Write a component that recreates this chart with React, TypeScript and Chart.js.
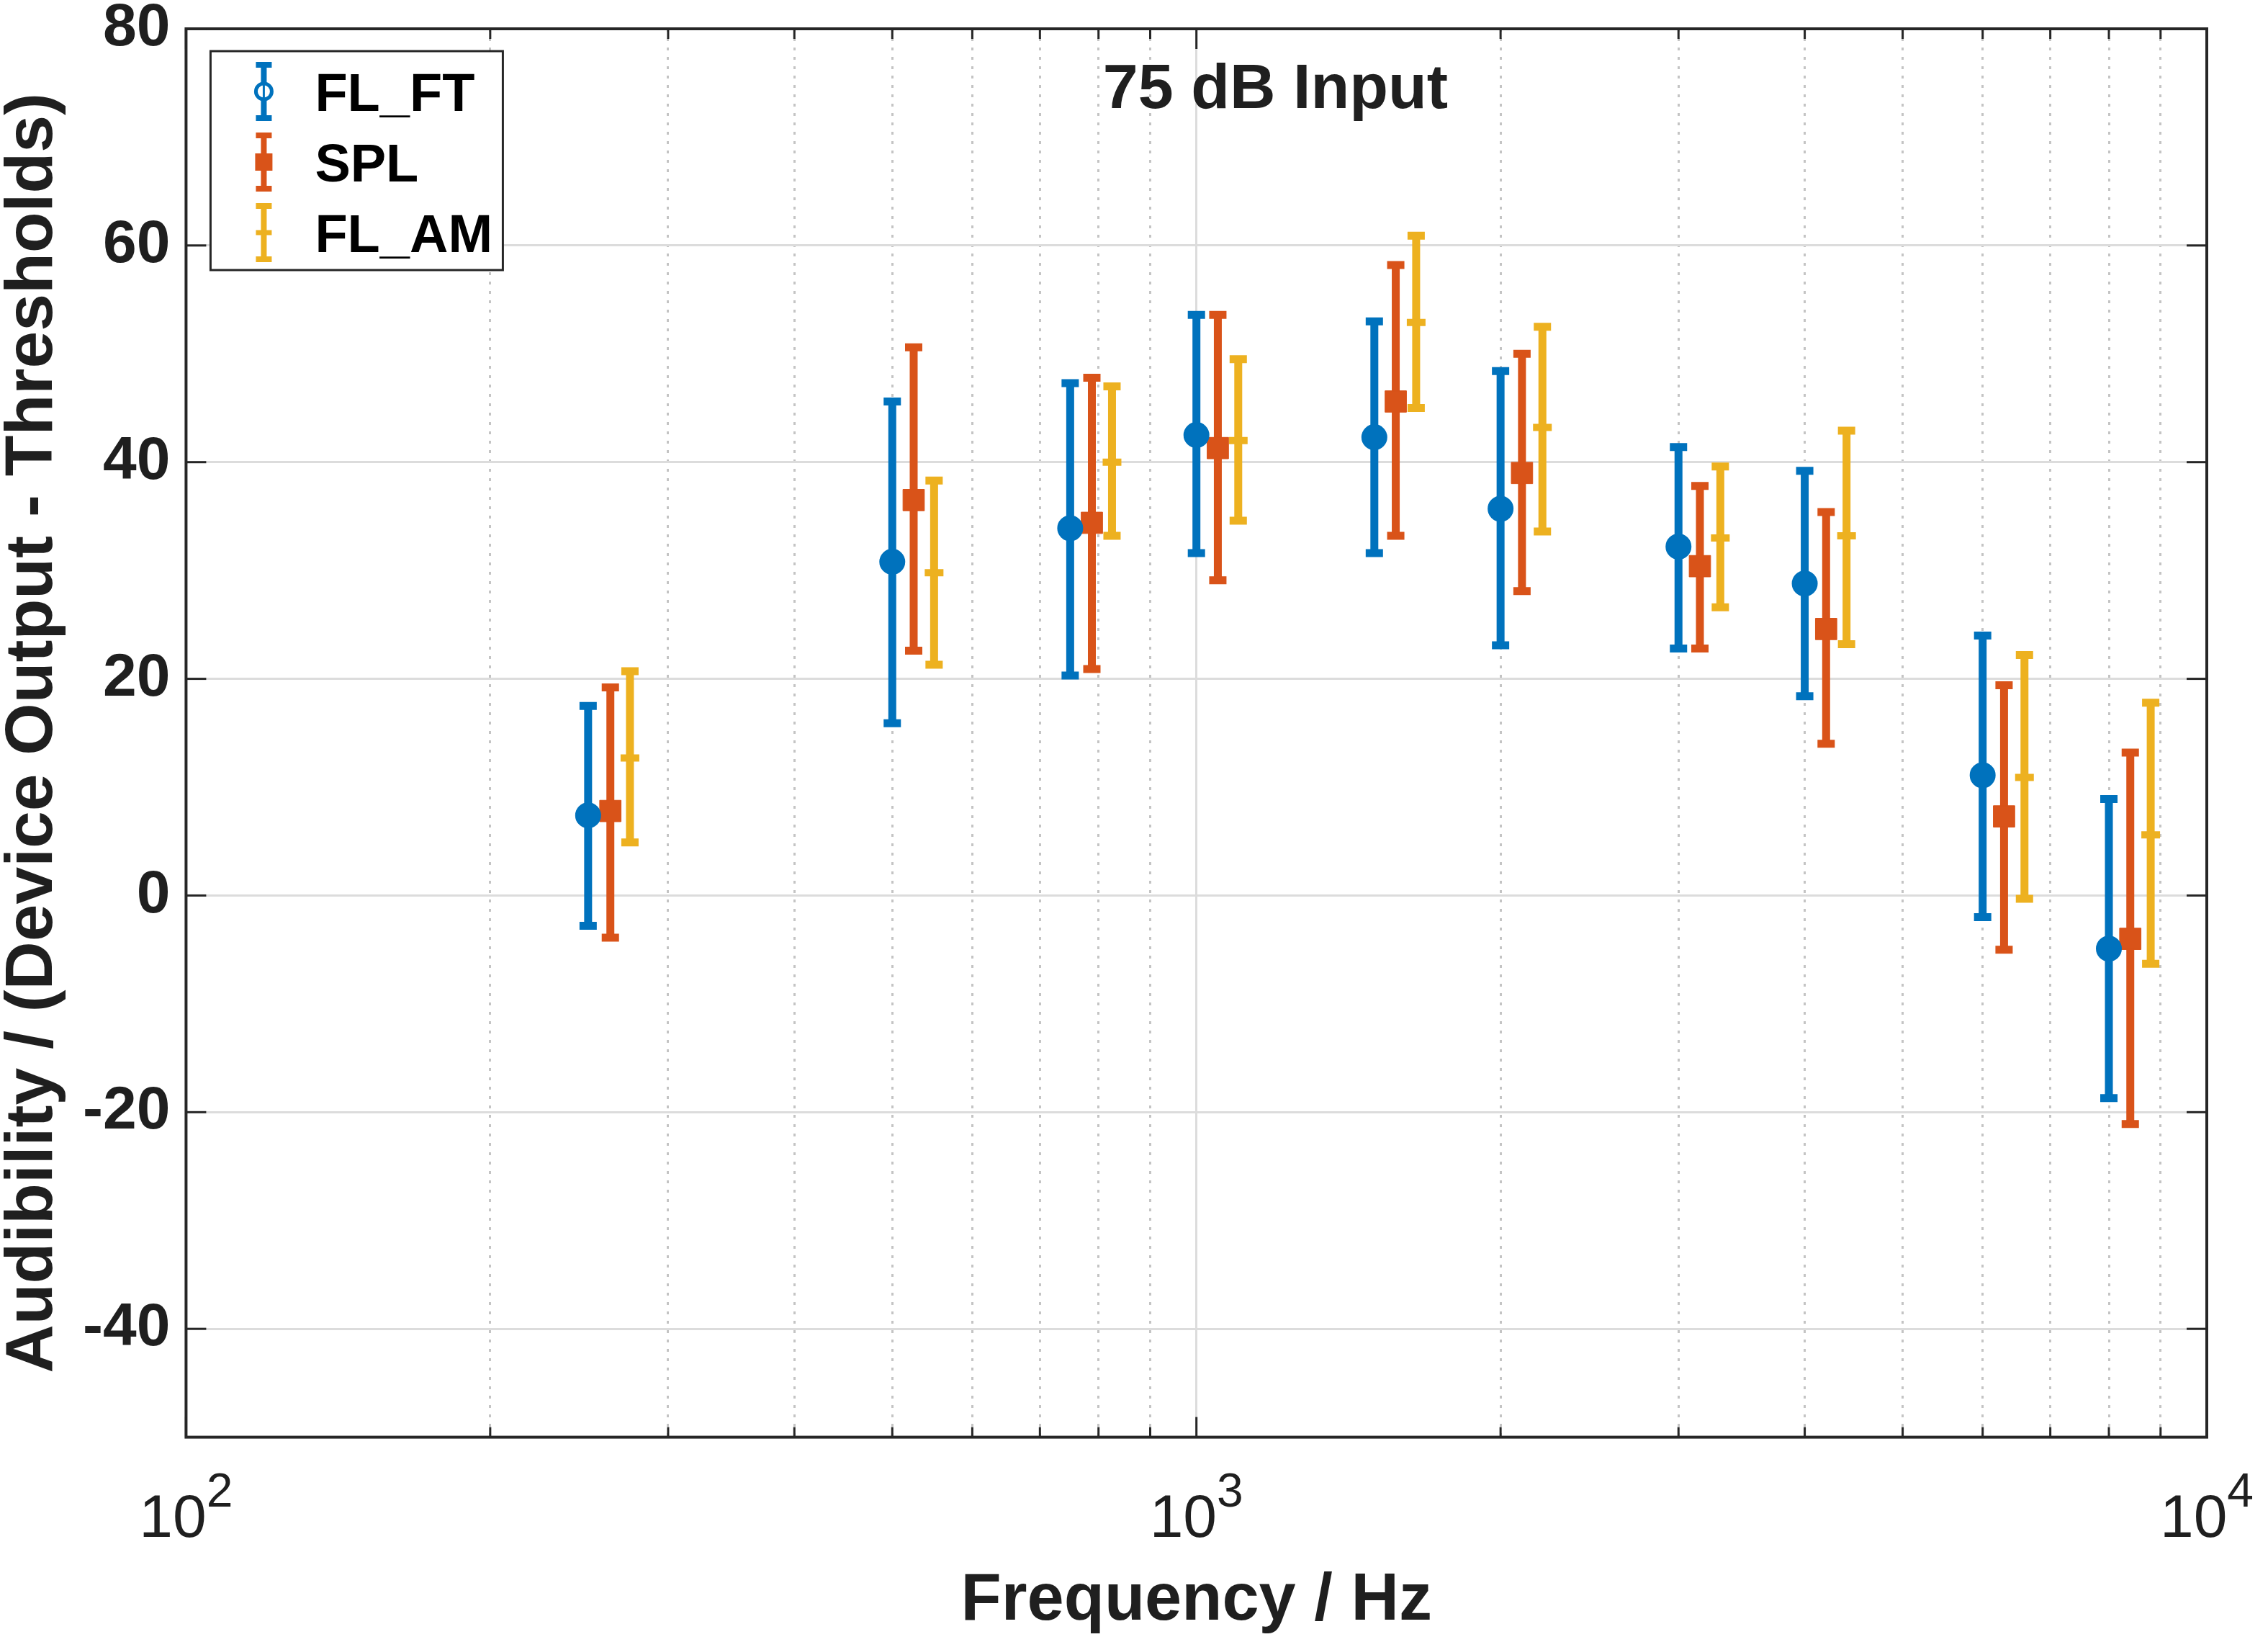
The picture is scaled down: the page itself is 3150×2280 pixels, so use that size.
import React, { useEffect, useRef } from 'react';
import Chart from 'chart.js/auto';

// frequencies (Hz) - series are slightly staggered around the nominal bands
const ftFreq = [250, 500, 750, 1000, 1500, 2000, 3000, 4000, 6000, 8000];
const splFreq = [263, 525, 788, 1050, 1575, 2100, 3150, 4200, 6300, 8400];
const amFreq = [275, 550, 825, 1100, 1650, 2200, 3300, 4400, 6600, 8800];

// FL_FT
const ftMean = [7.4, 30.8, 33.9, 42.5, 42.3, 35.7, 32.2, 28.8, 11.1, -4.9];
const ftUpper = [17.5, 45.6, 47.3, 53.6, 53.0, 48.4, 41.4, 39.2, 24.0, 8.9];
const ftLower = [-2.8, 15.9, 20.3, 31.6, 31.6, 23.1, 22.8, 18.4, -2.0, -18.7];

// SPL
const splMean = [7.8, 36.5, 34.4, 41.3, 45.6, 39.0, 30.4, 24.6, 7.3, -4.0];
const splUpper = [19.2, 50.6, 47.8, 53.6, 58.2, 50.0, 37.8, 35.4, 19.4, 13.2];
const splLower = [-3.9, 22.6, 20.9, 29.1, 33.2, 28.1, 22.8, 14.0, -5.0, -21.1];

// FL_AM
const amMean = [12.7, 29.8, 40.0, 42.0, 52.9, 43.2, 33.0, 33.2, 10.9, 5.6];
const amUpper = [20.7, 38.3, 47.0, 49.5, 60.9, 52.5, 39.6, 42.9, 22.2, 17.8];
const amLower = [4.9, 21.3, 33.2, 34.6, 45.0, 33.6, 26.6, 23.2, -0.3, -6.3];

const seriesNames = ['FL_FT', 'SPL', 'FL_AM'];
const yTicks = [-40, -20, 0, 20, 40, 60, 80];
const xTicks = [100, 200, 300, 400, 500, 600, 700, 800, 900, 1000, 2000, 3000, 4000, 5000, 6000, 7000, 8000, 9000, 10000];
const xLabelValues = [100, 1000, 10000];
const xLabelExps = ['2', '3', '4'];
const plotTitle = '75 dB Input';

const BLUE = '#0072BD';
const ORANGE = '#D95319';
const YELLOW = '#EDB120';
const INK = '#1f1f1f';
const FONT = '"Liberation Sans", Arial, sans-serif';

const isPow10 = (v: number) => Math.abs(Math.log10(v) - Math.round(Math.log10(v))) < 1e-9;

const line = (ctx: CanvasRenderingContext2D, x1: number, y1: number, x2: number, y2: number) => {
    ctx.beginPath();
    ctx.moveTo(x1, y1);
    ctx.lineTo(x2, y2);
    ctx.stroke();
};

const drawErrorBar = (ctx: CanvasRenderingContext2D, x: number, yHi: number, yLo: number, capHalf: number) => {
    ctx.beginPath();
    ctx.moveTo(x, yHi);
    ctx.lineTo(x, yLo);
    ctx.moveTo(x - capHalf, yHi);
    ctx.lineTo(x + capHalf, yHi);
    ctx.moveTo(x - capHalf, yLo);
    ctx.lineTo(x + capHalf, yLo);
    ctx.stroke();
};

const decorPlugin = {
    id: 'matlabDecor',
    beforeDatasetsDraw(chart: any) {
        const { ctx } = chart;
        const xs = chart.scales.x;
        const ys = chart.scales.y;
        ctx.save();
        ctx.lineCap = 'butt';
        chart.data.datasets.forEach((ds: any) => {
            ctx.strokeStyle = ds.barColor;
            ctx.lineWidth = 11;
            ds.data.forEach((p: any, i: number) => {
                const x = xs.getPixelForValue(p.x);
                drawErrorBar(ctx, x, ys.getPixelForValue(ds.upper[i]), ys.getPixelForValue(ds.lower[i]), 12);
            });
        });
        ctx.restore();
    },
    afterDraw(chart: any) {
        const { ctx, chartArea: ca } = chart;
        const xs = chart.scales.x;
        const ys = chart.scales.y;
        ctx.save();

        // axes box and inward ticks
        ctx.strokeStyle = '#262626';
        ctx.lineWidth = 4;
        ctx.strokeRect(ca.left, ca.top, ca.right - ca.left, ca.bottom - ca.top);
        ctx.lineWidth = 3;
        yTicks.forEach((v) => {
            const y = ys.getPixelForValue(v);
            line(ctx, ca.left, y, ca.left + 28, y);
            line(ctx, ca.right - 28, y, ca.right, y);
        });
        xTicks.forEach((v) => {
            const x = xs.getPixelForValue(v);
            const len = isPow10(v) ? 28 : 14;
            line(ctx, x, ca.bottom, x, ca.bottom - len);
            line(ctx, x, ca.top, x, ca.top + len);
        });

        // x tick labels 10^n
        ctx.fillStyle = INK;
        ctx.textAlign = 'left';
        ctx.textBaseline = 'alphabetic';
        xLabelValues.forEach((v, k) => {
            const x = xs.getPixelForValue(v);
            ctx.font = `84px ${FONT}`;
            const wBase = ctx.measureText('10').width;
            ctx.font = `66px ${FONT}`;
            const wExp = ctx.measureText(xLabelExps[k]).width;
            const start = x - (wBase + wExp) / 2;
            ctx.font = `84px ${FONT}`;
            ctx.fillText('10', start, ca.bottom + 138);
            ctx.font = `66px ${FONT}`;
            ctx.fillText(xLabelExps[k], start + wBase, ca.bottom + 96);
        });

        // title inside the axes
        ctx.font = `bold 88px ${FONT}`;
        ctx.textAlign = 'center';
        ctx.fillText(plotTitle, ca.left + 1513, ca.top + 110);

        // legend
        const lx = ca.left + 34;
        const ly = ca.top + 31;
        const lw = 406;
        const lh = 304;
        ctx.fillStyle = '#ffffff';
        ctx.fillRect(lx, ly, lw, lh);
        ctx.strokeStyle = '#262626';
        ctx.lineWidth = 3;
        ctx.strokeRect(lx, ly, lw, lh);
        chart.data.datasets.forEach((ds: any, k: number) => {
            const baseY = ly + 83 + k * 98;
            const cy = baseY - 27;
            const cx = lx + 74;
            ctx.strokeStyle = ds.barColor;
            ctx.lineWidth = 8;
            drawErrorBar(ctx, cx, cy - 37, cy + 37, 11);
            if (ds.pointStyle === 'circle') {
                ctx.fillStyle = '#ffffff';
                ctx.lineWidth = 5;
                ctx.beginPath();
                ctx.arc(cx, cy, 11, 0, Math.PI * 2);
                ctx.fill();
                ctx.stroke();
                ctx.lineWidth = 3;
                line(ctx, cx, cy - 11, cx, cy + 11);
            } else if (ds.pointStyle === 'rect') {
                ctx.fillStyle = ds.barColor;
                ctx.fillRect(cx - 12, cy - 12, 24, 24);
            } else {
                ctx.lineWidth = 7;
                line(ctx, cx - 11, cy, cx + 11, cy);
            }
            ctx.fillStyle = '#000000';
            ctx.font = `bold 74px ${FONT}`;
            ctx.textAlign = 'left';
            ctx.fillText(seriesNames[k], lx + 145, baseY);
        });

        ctx.restore();
    },
};

const App: React.FC = () => {
    const chartRef = useRef<HTMLCanvasElement>(null);

    useEffect(() => {
        if (!chartRef.current) return;
        const ctx = chartRef.current.getContext('2d');
        if (!ctx) return;

        Chart.defaults.font.family = FONT;
        Chart.defaults.color = INK;

        const chart = new Chart(ctx, {
            type: 'scatter',
            data: {
                datasets: [
                    {
                        label: seriesNames[0],
                        data: ftFreq.map((f, i) => ({ x: f, y: ftMean[i] })),
                        upper: ftUpper,
                        lower: ftLower,
                        barColor: BLUE,
                        pointStyle: 'circle',
                        pointRadius: 17,
                        backgroundColor: BLUE,
                        borderColor: BLUE,
                        borderWidth: 2,
                    } as any,
                    {
                        label: seriesNames[1],
                        data: splFreq.map((f, i) => ({ x: f, y: splMean[i] })),
                        upper: splUpper,
                        lower: splLower,
                        barColor: ORANGE,
                        pointStyle: 'rect',
                        pointRadius: 21,
                        backgroundColor: ORANGE,
                        borderColor: ORANGE,
                        borderWidth: 1,
                    } as any,
                    {
                        label: seriesNames[2],
                        data: amFreq.map((f, i) => ({ x: f, y: amMean[i] })),
                        upper: amUpper,
                        lower: amLower,
                        barColor: YELLOW,
                        pointStyle: 'line',
                        pointRadius: 13,
                        backgroundColor: YELLOW,
                        borderColor: YELLOW,
                        borderWidth: 10,
                    } as any,
                ],
            },
            options: {
                animation: false,
                responsive: true,
                maintainAspectRatio: false,
                devicePixelRatio: 1,
                events: [],
                layout: { padding: { left: 0, right: 85, top: 40, bottom: 0 } },
                plugins: {
                    legend: { display: false },
                    tooltip: { enabled: false },
                },
                scales: {
                    x: {
                        type: 'logarithmic',
                        min: 100,
                        max: 10000,
                        afterBuildTicks: (scale: any) => {
                            scale.ticks = xTicks.map((v) => ({ value: v }));
                        },
                        ticks: { display: false },
                        grid: {
                            drawTicks: false,
                            lineWidth: 3,
                            color: (c: any) => (isPow10(c.tick.value) ? '#dcdcdc' : '#c4c4c4'),
                        },
                        border: {
                            display: false,
                            dash: (c: any) => (c.tick && isPow10(c.tick.value) ? [] : [4, 9]),
                        },
                        title: {
                            display: true,
                            text: 'Frequency / Hz',
                            color: INK,
                            font: { size: 92, weight: 'bold', lineHeight: 1.2 },
                            padding: { top: 173, bottom: 1 },
                        },
                    },
                    y: {
                        type: 'linear',
                        min: -50,
                        max: 80,
                        afterBuildTicks: (scale: any) => {
                            scale.ticks = yTicks.map((v) => ({ value: v }));
                        },
                        ticks: {
                            color: INK,
                            padding: 22,
                            font: { size: 84, weight: 'bold', lineHeight: 0.25 },
                        },
                        grid: { drawTicks: false, lineWidth: 3, color: '#dcdcdc' },
                        border: { display: false },
                        title: {
                            display: true,
                            text: 'Audibility / (Device Output - Thresholds)',
                            color: INK,
                            font: { size: 93, weight: 'bold', lineHeight: 1 },
                            padding: { top: 0, bottom: 0 },
                        },
                    },
                },
            },
            plugins: [decorPlugin],
        });

        return () => {
            chart.destroy();
        };
    }, []);

    return (
        <div style={{ position: 'absolute', left: 0, top: 0, width: 3150, height: 2280, background: '#ffffff' }}>
            <canvas ref={chartRef}></canvas>
        </div>
    );
};

export default App;
